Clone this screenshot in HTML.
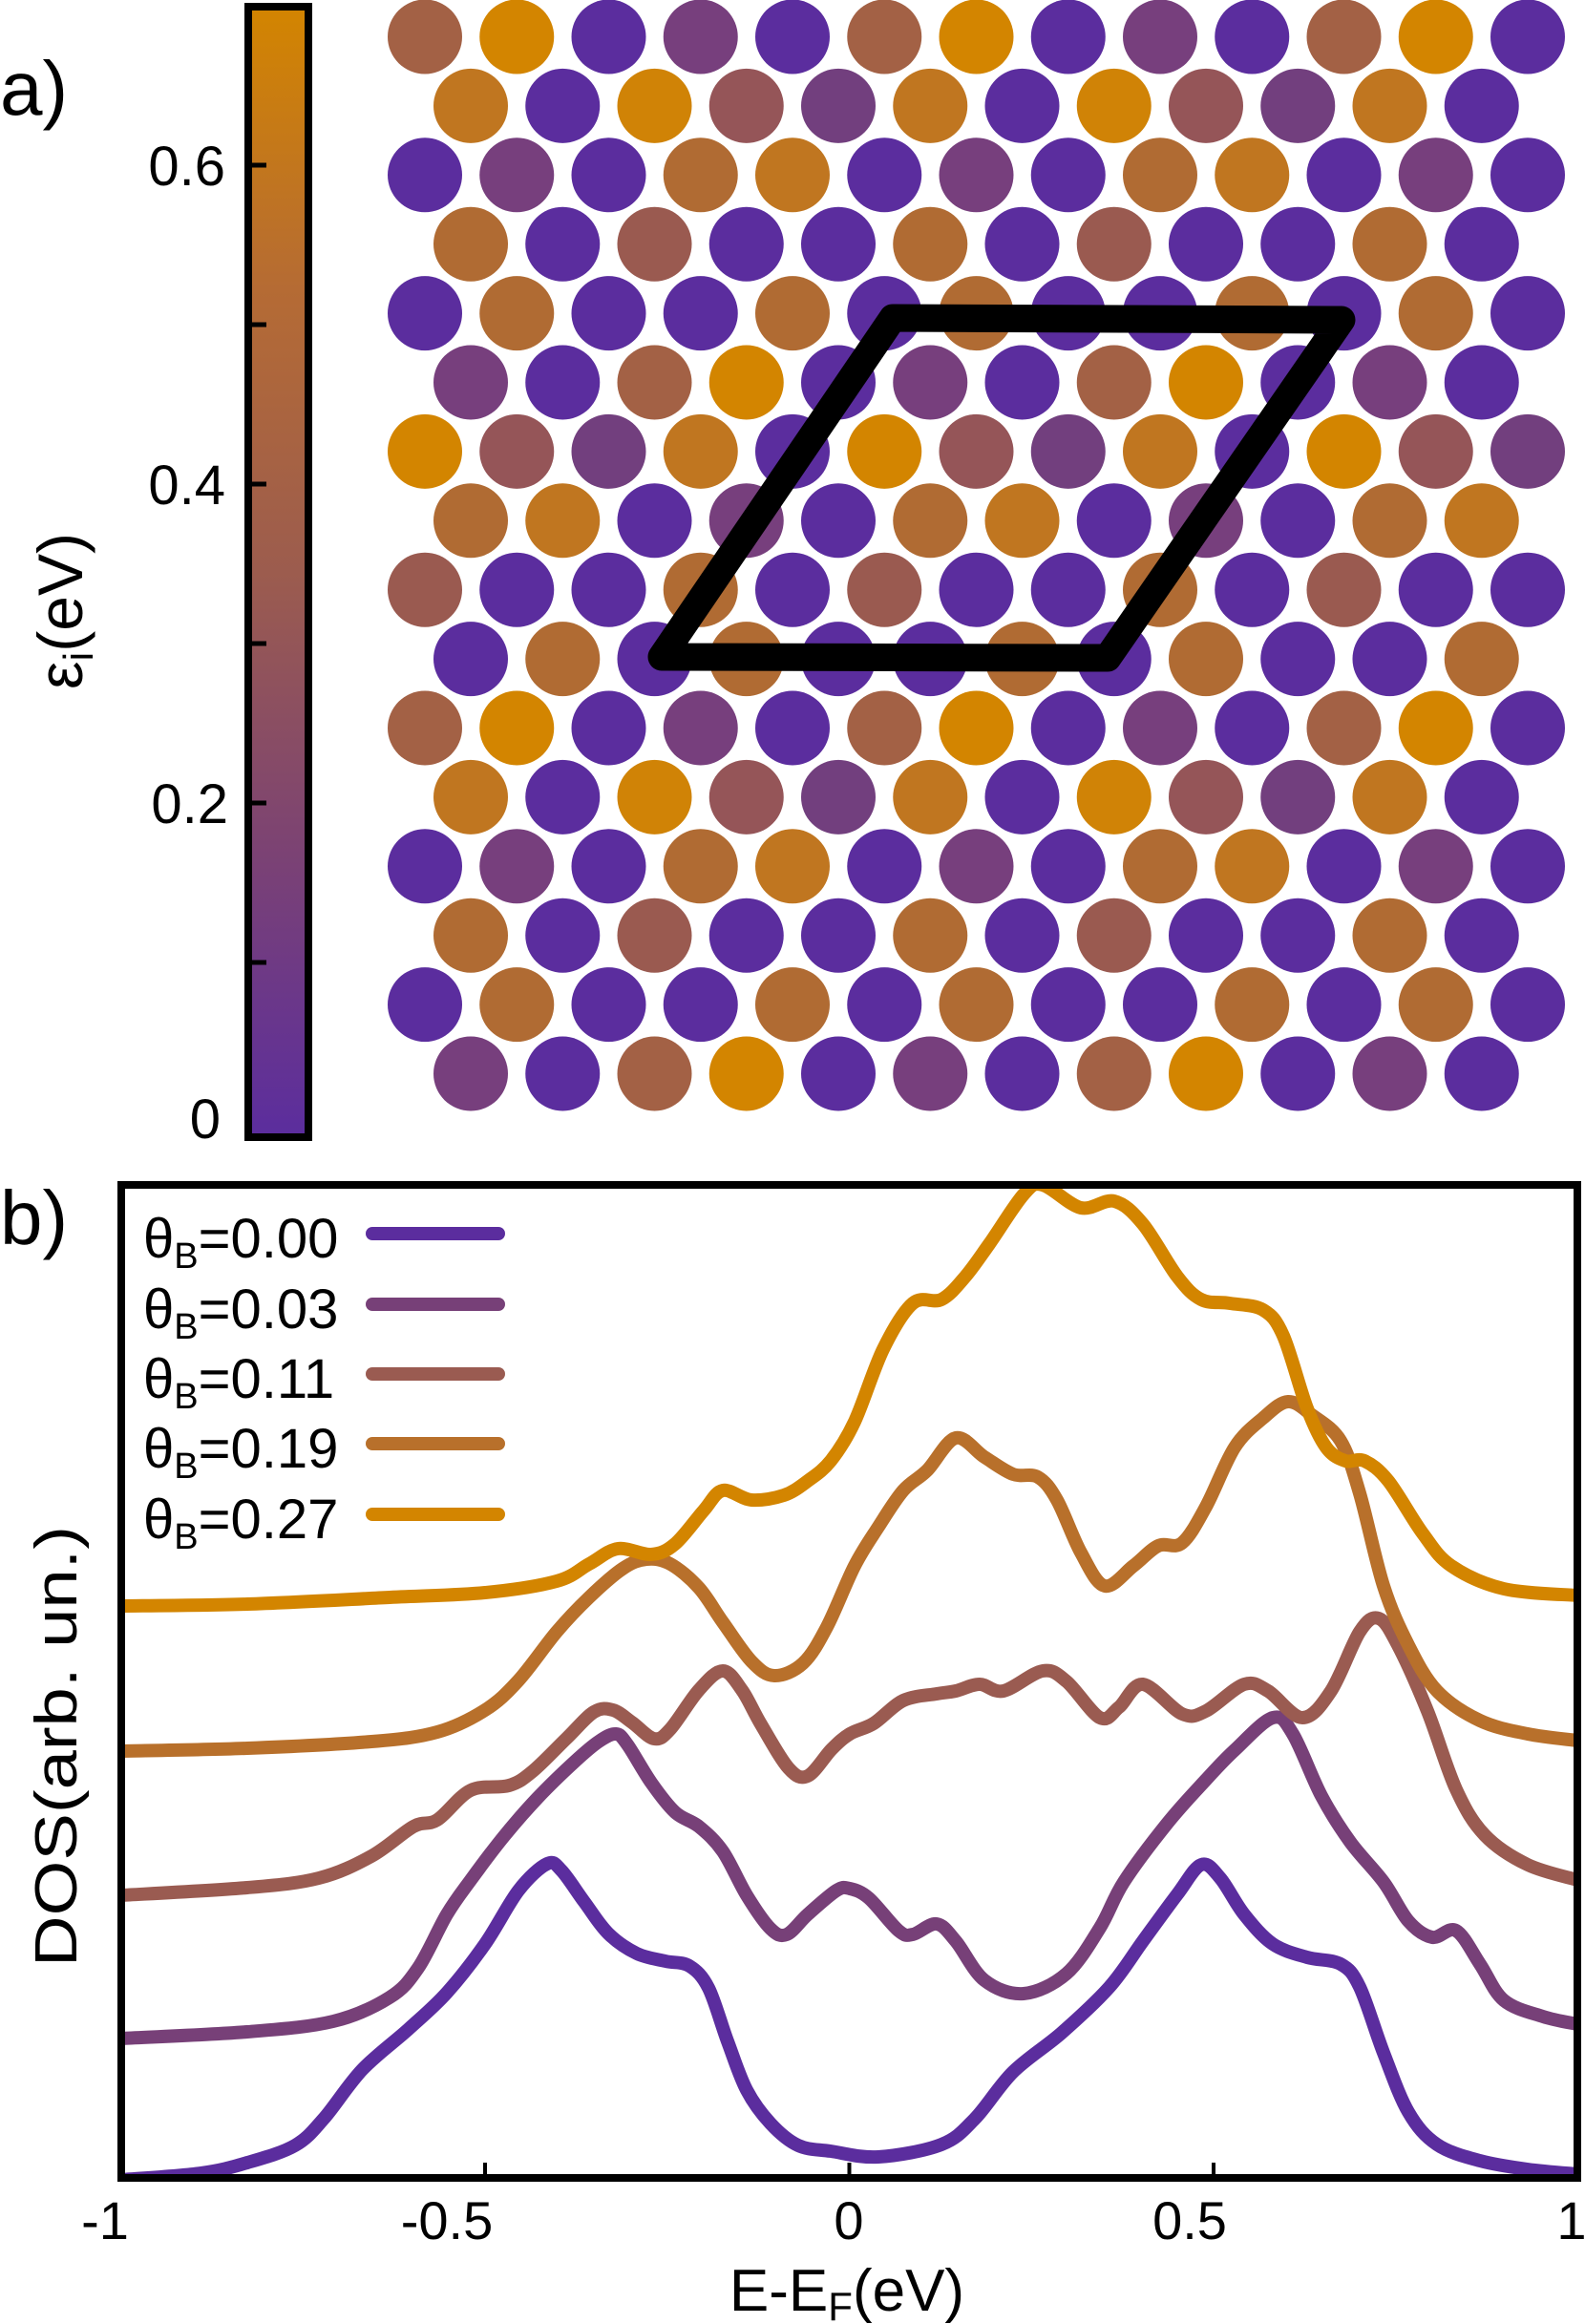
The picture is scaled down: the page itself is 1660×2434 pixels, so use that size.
<!DOCTYPE html>
<html><head><meta charset="utf-8"><style>html,body{margin:0;padding:0;background:#fff}svg{display:block}</style></head>
<body>
<svg id="root" width="1660" height="2434" viewBox="0 0 1660 2434" xmlns="http://www.w3.org/2000/svg" font-family="'Liberation Sans', sans-serif">
<defs>
<linearGradient id="cb" x1="0" y1="1" x2="0" y2="0">
<stop offset="0" stop-color="#5b2d9e"/><stop offset="0.25" stop-color="#7b4274"/><stop offset="0.5" stop-color="#9c5c4e"/><stop offset="0.75" stop-color="#b56b34"/><stop offset="1" stop-color="#d38500"/>
</linearGradient>
<clipPath id="pc"><rect x="127" y="1241" width="1525" height="1040"/></clipPath>
</defs>
<text x="0" y="120" font-size="80">a)</text>
<text x="0" y="1303" font-size="80">b)</text>
<rect x="260" y="7" width="63" height="1184" fill="url(#cb)" stroke="#000" stroke-width="8"/>
<g stroke="#000" stroke-width="5">
<line x1="262" y1="173" x2="279" y2="173"/><line x1="262" y1="340" x2="279" y2="340"/><line x1="262" y1="507" x2="279" y2="507"/><line x1="262" y1="674" x2="279" y2="674"/><line x1="262" y1="841" x2="279" y2="841"/><line x1="262" y1="1008" x2="279" y2="1008"/>
</g>
<g font-size="58" text-anchor="end">
<text x="236" y="194">0.6</text><text x="236" y="528">0.4</text><text x="239" y="862">0.2</text><text x="231" y="1192">0</text>
</g>
<text transform="translate(86,640) rotate(-90)" font-size="66" text-anchor="middle">ε<tspan font-size="44" dy="11">i</tspan><tspan dy="-11">(eV)</tspan></text>
<g>
<circle cx="445" cy="38.5" r="39" fill="#a36145"/><circle cx="541.25" cy="38.5" r="39" fill="#d38500"/><circle cx="637.5" cy="38.5" r="39" fill="#5b2d9e"/><circle cx="733.75" cy="38.5" r="39" fill="#773f7d"/><circle cx="830" cy="38.5" r="39" fill="#5b2d9e"/><circle cx="926.25" cy="38.5" r="39" fill="#a36145"/><circle cx="1022.5" cy="38.5" r="39" fill="#d38500"/><circle cx="1118.75" cy="38.5" r="39" fill="#5b2d9e"/><circle cx="1215" cy="38.5" r="39" fill="#773f7d"/><circle cx="1311.25" cy="38.5" r="39" fill="#5b2d9e"/><circle cx="1407.5" cy="38.5" r="39" fill="#a36145"/><circle cx="1503.75" cy="38.5" r="39" fill="#d38500"/><circle cx="1600" cy="38.5" r="39" fill="#5b2d9e"/>
<circle cx="493" cy="110.9" r="39" fill="#c07620"/><circle cx="589.25" cy="110.9" r="39" fill="#5b2d9e"/><circle cx="685.5" cy="110.9" r="39" fill="#d08306"/><circle cx="781.75" cy="110.9" r="39" fill="#955558"/><circle cx="878" cy="110.9" r="39" fill="#723f7e"/><circle cx="974.25" cy="110.9" r="39" fill="#c07620"/><circle cx="1070.5" cy="110.9" r="39" fill="#5b2d9e"/><circle cx="1166.75" cy="110.9" r="39" fill="#d08306"/><circle cx="1263" cy="110.9" r="39" fill="#955558"/><circle cx="1359.25" cy="110.9" r="39" fill="#723f7e"/><circle cx="1455.5" cy="110.9" r="39" fill="#c07620"/><circle cx="1551.75" cy="110.9" r="39" fill="#5b2d9e"/>
<circle cx="445" cy="183.3" r="39" fill="#5b2d9e"/><circle cx="541.25" cy="183.3" r="39" fill="#773f7d"/><circle cx="637.5" cy="183.3" r="39" fill="#5b2d9e"/><circle cx="733.75" cy="183.3" r="39" fill="#b06b33"/><circle cx="830" cy="183.3" r="39" fill="#c07620"/><circle cx="926.25" cy="183.3" r="39" fill="#5b2d9e"/><circle cx="1022.5" cy="183.3" r="39" fill="#773f7d"/><circle cx="1118.75" cy="183.3" r="39" fill="#5b2d9e"/><circle cx="1215" cy="183.3" r="39" fill="#b06b33"/><circle cx="1311.25" cy="183.3" r="39" fill="#c07620"/><circle cx="1407.5" cy="183.3" r="39" fill="#5b2d9e"/><circle cx="1503.75" cy="183.3" r="39" fill="#773f7d"/><circle cx="1600" cy="183.3" r="39" fill="#5b2d9e"/>
<circle cx="493" cy="255.7" r="39" fill="#b06b33"/><circle cx="589.25" cy="255.7" r="39" fill="#5b2d9e"/><circle cx="685.5" cy="255.7" r="39" fill="#9a5a50"/><circle cx="781.75" cy="255.7" r="39" fill="#5b2d9e"/><circle cx="878" cy="255.7" r="39" fill="#5b2d9e"/><circle cx="974.25" cy="255.7" r="39" fill="#b06b33"/><circle cx="1070.5" cy="255.7" r="39" fill="#5b2d9e"/><circle cx="1166.75" cy="255.7" r="39" fill="#9a5a50"/><circle cx="1263" cy="255.7" r="39" fill="#5b2d9e"/><circle cx="1359.25" cy="255.7" r="39" fill="#5b2d9e"/><circle cx="1455.5" cy="255.7" r="39" fill="#b06b33"/><circle cx="1551.75" cy="255.7" r="39" fill="#5b2d9e"/>
<circle cx="445" cy="328.1" r="39" fill="#5b2d9e"/><circle cx="541.25" cy="328.1" r="39" fill="#b06b33"/><circle cx="637.5" cy="328.1" r="39" fill="#5b2d9e"/><circle cx="733.75" cy="328.1" r="39" fill="#5b2d9e"/><circle cx="830" cy="328.1" r="39" fill="#b06b33"/><circle cx="926.25" cy="328.1" r="39" fill="#5b2d9e"/><circle cx="1022.5" cy="328.1" r="39" fill="#b06b33"/><circle cx="1118.75" cy="328.1" r="39" fill="#5b2d9e"/><circle cx="1215" cy="328.1" r="39" fill="#5b2d9e"/><circle cx="1311.25" cy="328.1" r="39" fill="#b06b33"/><circle cx="1407.5" cy="328.1" r="39" fill="#5b2d9e"/><circle cx="1503.75" cy="328.1" r="39" fill="#b06b33"/><circle cx="1600" cy="328.1" r="39" fill="#5b2d9e"/>
<circle cx="493" cy="400.5" r="39" fill="#773f7d"/><circle cx="589.25" cy="400.5" r="39" fill="#5b2d9e"/><circle cx="685.5" cy="400.5" r="39" fill="#a36145"/><circle cx="781.75" cy="400.5" r="39" fill="#d38500"/><circle cx="878" cy="400.5" r="39" fill="#5b2d9e"/><circle cx="974.25" cy="400.5" r="39" fill="#773f7d"/><circle cx="1070.5" cy="400.5" r="39" fill="#5b2d9e"/><circle cx="1166.75" cy="400.5" r="39" fill="#a36145"/><circle cx="1263" cy="400.5" r="39" fill="#d38500"/><circle cx="1359.25" cy="400.5" r="39" fill="#5b2d9e"/><circle cx="1455.5" cy="400.5" r="39" fill="#773f7d"/><circle cx="1551.75" cy="400.5" r="39" fill="#5b2d9e"/>
<circle cx="445" cy="472.9" r="39" fill="#d38500"/><circle cx="541.25" cy="472.9" r="39" fill="#955558"/><circle cx="637.5" cy="472.9" r="39" fill="#723f7e"/><circle cx="733.75" cy="472.9" r="39" fill="#c07620"/><circle cx="830" cy="472.9" r="39" fill="#5b2d9e"/><circle cx="926.25" cy="472.9" r="39" fill="#d38500"/><circle cx="1022.5" cy="472.9" r="39" fill="#955558"/><circle cx="1118.75" cy="472.9" r="39" fill="#723f7e"/><circle cx="1215" cy="472.9" r="39" fill="#c07620"/><circle cx="1311.25" cy="472.9" r="39" fill="#5b2d9e"/><circle cx="1407.5" cy="472.9" r="39" fill="#d38500"/><circle cx="1503.75" cy="472.9" r="39" fill="#955558"/><circle cx="1600" cy="472.9" r="39" fill="#723f7e"/>
<circle cx="493" cy="545.3" r="39" fill="#b06b33"/><circle cx="589.25" cy="545.3" r="39" fill="#c07620"/><circle cx="685.5" cy="545.3" r="39" fill="#5b2d9e"/><circle cx="781.75" cy="545.3" r="39" fill="#773f7d"/><circle cx="878" cy="545.3" r="39" fill="#5b2d9e"/><circle cx="974.25" cy="545.3" r="39" fill="#b06b33"/><circle cx="1070.5" cy="545.3" r="39" fill="#c07620"/><circle cx="1166.75" cy="545.3" r="39" fill="#5b2d9e"/><circle cx="1263" cy="545.3" r="39" fill="#773f7d"/><circle cx="1359.25" cy="545.3" r="39" fill="#5b2d9e"/><circle cx="1455.5" cy="545.3" r="39" fill="#b06b33"/><circle cx="1551.75" cy="545.3" r="39" fill="#c07620"/>
<circle cx="445" cy="617.7" r="39" fill="#9a5a50"/><circle cx="541.25" cy="617.7" r="39" fill="#5b2d9e"/><circle cx="637.5" cy="617.7" r="39" fill="#5b2d9e"/><circle cx="733.75" cy="617.7" r="39" fill="#b06b33"/><circle cx="830" cy="617.7" r="39" fill="#5b2d9e"/><circle cx="926.25" cy="617.7" r="39" fill="#9a5a50"/><circle cx="1022.5" cy="617.7" r="39" fill="#5b2d9e"/><circle cx="1118.75" cy="617.7" r="39" fill="#5b2d9e"/><circle cx="1215" cy="617.7" r="39" fill="#b06b33"/><circle cx="1311.25" cy="617.7" r="39" fill="#5b2d9e"/><circle cx="1407.5" cy="617.7" r="39" fill="#9a5a50"/><circle cx="1503.75" cy="617.7" r="39" fill="#5b2d9e"/><circle cx="1600" cy="617.7" r="39" fill="#5b2d9e"/>
<circle cx="493" cy="690.1" r="39" fill="#5b2d9e"/><circle cx="589.25" cy="690.1" r="39" fill="#b06b33"/><circle cx="685.5" cy="690.1" r="39" fill="#5b2d9e"/><circle cx="781.75" cy="690.1" r="39" fill="#b06b33"/><circle cx="878" cy="690.1" r="39" fill="#5b2d9e"/><circle cx="974.25" cy="690.1" r="39" fill="#5b2d9e"/><circle cx="1070.5" cy="690.1" r="39" fill="#b06b33"/><circle cx="1166.75" cy="690.1" r="39" fill="#5b2d9e"/><circle cx="1263" cy="690.1" r="39" fill="#b06b33"/><circle cx="1359.25" cy="690.1" r="39" fill="#5b2d9e"/><circle cx="1455.5" cy="690.1" r="39" fill="#5b2d9e"/><circle cx="1551.75" cy="690.1" r="39" fill="#b06b33"/>
<circle cx="445" cy="762.5" r="39" fill="#a36145"/><circle cx="541.25" cy="762.5" r="39" fill="#d38500"/><circle cx="637.5" cy="762.5" r="39" fill="#5b2d9e"/><circle cx="733.75" cy="762.5" r="39" fill="#773f7d"/><circle cx="830" cy="762.5" r="39" fill="#5b2d9e"/><circle cx="926.25" cy="762.5" r="39" fill="#a36145"/><circle cx="1022.5" cy="762.5" r="39" fill="#d38500"/><circle cx="1118.75" cy="762.5" r="39" fill="#5b2d9e"/><circle cx="1215" cy="762.5" r="39" fill="#773f7d"/><circle cx="1311.25" cy="762.5" r="39" fill="#5b2d9e"/><circle cx="1407.5" cy="762.5" r="39" fill="#a36145"/><circle cx="1503.75" cy="762.5" r="39" fill="#d38500"/><circle cx="1600" cy="762.5" r="39" fill="#5b2d9e"/>
<circle cx="493" cy="834.9" r="39" fill="#c07620"/><circle cx="589.25" cy="834.9" r="39" fill="#5b2d9e"/><circle cx="685.5" cy="834.9" r="39" fill="#d08306"/><circle cx="781.75" cy="834.9" r="39" fill="#955558"/><circle cx="878" cy="834.9" r="39" fill="#723f7e"/><circle cx="974.25" cy="834.9" r="39" fill="#c07620"/><circle cx="1070.5" cy="834.9" r="39" fill="#5b2d9e"/><circle cx="1166.75" cy="834.9" r="39" fill="#d08306"/><circle cx="1263" cy="834.9" r="39" fill="#955558"/><circle cx="1359.25" cy="834.9" r="39" fill="#723f7e"/><circle cx="1455.5" cy="834.9" r="39" fill="#c07620"/><circle cx="1551.75" cy="834.9" r="39" fill="#5b2d9e"/>
<circle cx="445" cy="907.3" r="39" fill="#5b2d9e"/><circle cx="541.25" cy="907.3" r="39" fill="#773f7d"/><circle cx="637.5" cy="907.3" r="39" fill="#5b2d9e"/><circle cx="733.75" cy="907.3" r="39" fill="#b06b33"/><circle cx="830" cy="907.3" r="39" fill="#c07620"/><circle cx="926.25" cy="907.3" r="39" fill="#5b2d9e"/><circle cx="1022.5" cy="907.3" r="39" fill="#773f7d"/><circle cx="1118.75" cy="907.3" r="39" fill="#5b2d9e"/><circle cx="1215" cy="907.3" r="39" fill="#b06b33"/><circle cx="1311.25" cy="907.3" r="39" fill="#c07620"/><circle cx="1407.5" cy="907.3" r="39" fill="#5b2d9e"/><circle cx="1503.75" cy="907.3" r="39" fill="#773f7d"/><circle cx="1600" cy="907.3" r="39" fill="#5b2d9e"/>
<circle cx="493" cy="979.7" r="39" fill="#b06b33"/><circle cx="589.25" cy="979.7" r="39" fill="#5b2d9e"/><circle cx="685.5" cy="979.7" r="39" fill="#9a5a50"/><circle cx="781.75" cy="979.7" r="39" fill="#5b2d9e"/><circle cx="878" cy="979.7" r="39" fill="#5b2d9e"/><circle cx="974.25" cy="979.7" r="39" fill="#b06b33"/><circle cx="1070.5" cy="979.7" r="39" fill="#5b2d9e"/><circle cx="1166.75" cy="979.7" r="39" fill="#9a5a50"/><circle cx="1263" cy="979.7" r="39" fill="#5b2d9e"/><circle cx="1359.25" cy="979.7" r="39" fill="#5b2d9e"/><circle cx="1455.5" cy="979.7" r="39" fill="#b06b33"/><circle cx="1551.75" cy="979.7" r="39" fill="#5b2d9e"/>
<circle cx="445" cy="1052.1" r="39" fill="#5b2d9e"/><circle cx="541.25" cy="1052.1" r="39" fill="#b06b33"/><circle cx="637.5" cy="1052.1" r="39" fill="#5b2d9e"/><circle cx="733.75" cy="1052.1" r="39" fill="#5b2d9e"/><circle cx="830" cy="1052.1" r="39" fill="#b06b33"/><circle cx="926.25" cy="1052.1" r="39" fill="#5b2d9e"/><circle cx="1022.5" cy="1052.1" r="39" fill="#b06b33"/><circle cx="1118.75" cy="1052.1" r="39" fill="#5b2d9e"/><circle cx="1215" cy="1052.1" r="39" fill="#5b2d9e"/><circle cx="1311.25" cy="1052.1" r="39" fill="#b06b33"/><circle cx="1407.5" cy="1052.1" r="39" fill="#5b2d9e"/><circle cx="1503.75" cy="1052.1" r="39" fill="#b06b33"/><circle cx="1600" cy="1052.1" r="39" fill="#5b2d9e"/>
<circle cx="493" cy="1124.5" r="39" fill="#773f7d"/><circle cx="589.25" cy="1124.5" r="39" fill="#5b2d9e"/><circle cx="685.5" cy="1124.5" r="39" fill="#a36145"/><circle cx="781.75" cy="1124.5" r="39" fill="#d38500"/><circle cx="878" cy="1124.5" r="39" fill="#5b2d9e"/><circle cx="974.25" cy="1124.5" r="39" fill="#773f7d"/><circle cx="1070.5" cy="1124.5" r="39" fill="#5b2d9e"/><circle cx="1166.75" cy="1124.5" r="39" fill="#a36145"/><circle cx="1263" cy="1124.5" r="39" fill="#d38500"/><circle cx="1359.25" cy="1124.5" r="39" fill="#5b2d9e"/><circle cx="1455.5" cy="1124.5" r="39" fill="#773f7d"/><circle cx="1551.75" cy="1124.5" r="39" fill="#5b2d9e"/>
</g>
<polygon points="935,333 1405,335 1160,689 693,688" fill="none" stroke="#000" stroke-width="29" stroke-linejoin="round"/>
<g id="curves" clip-path="url(#pc)" fill="none" stroke-width="14" stroke-linejoin="round" stroke-linecap="round">
<polyline stroke="#5b2d9e" points="127,2283 210,2276 259,2265 309,2247 339,2219 379,2168 428,2125 468,2087 508,2036 543,1980 573,1952 588,1959 612,1992 637,2025 667,2046 697,2054 722,2059 742,2082 762,2138 782,2189 807,2224 836,2247 870,2253 920,2259 986,2246 1021,2219 1061,2170 1112,2129 1162,2081 1197,2033 1233,1984 1258,1953 1278,1967 1303,2005 1333,2036 1369,2050 1404,2057 1424,2081 1449,2150 1475,2212 1505,2246 1550,2263 1600,2272 1652,2277"/>
<polyline stroke="#774078" points="127,2135 259,2128 349,2117 408,2092 438,2061 468,2005 493,1969 528,1923 563,1883 603,1844 627,1824 645,1816 657,1827 682,1867 707,1898 732,1913 757,1939 782,1985 807,2020 824,2026 846,2005 876,1980 890,1978 910,1988 941,2022 956,2026 981,2015 1001,2033 1031,2074 1072,2088 1117,2067 1152,2019 1177,1971 1223,1909 1263,1864 1293,1833 1333,1799 1354,1816 1384,1881 1414,1929 1449,1971 1475,2012 1500,2029 1525,2022 1550,2057 1575,2095 1616,2112 1652,2120"/>
<polyline stroke="#9a5b51" points="127,1985 259,1977 334,1967 389,1944 433,1913 458,1906 493,1875 533,1870 558,1855 593,1821 622,1793 642,1791 662,1804 685,1821 702,1811 732,1770 757,1750 777,1770 797,1806 826,1852 846,1860 871,1832 890,1816 915,1805 946,1781 981,1774 1001,1771 1026,1764 1051,1771 1092,1750 1117,1761 1152,1799 1172,1788 1197,1764 1238,1795 1263,1792 1303,1764 1328,1771 1364,1799 1394,1771 1424,1709 1444,1695 1464,1723 1495,1792 1525,1874 1555,1922 1600,1953 1652,1969"/>
<polyline stroke="#b8702b" points="127,1834 259,1831 389,1824 458,1814 508,1791 543,1760 583,1709 617,1673 652,1643 677,1633 702,1638 732,1663 757,1699 787,1740 811,1755 841,1742 866,1704 895,1640 920,1599 946,1561 971,1540 1001,1506 1031,1526 1061,1544 1087,1547 1107,1571 1132,1626 1157,1661 1187,1640 1213,1619 1238,1616 1263,1578 1293,1516 1323,1485 1349,1468 1374,1482 1404,1509 1424,1564 1449,1661 1475,1723 1505,1771 1550,1802 1600,1816 1652,1823"/>
<polyline stroke="#d38500" points="127,1682 259,1680 408,1673 508,1668 583,1656 617,1638 647,1622 682,1628 707,1617 737,1582 757,1561 787,1571 821,1566 846,1551 870,1530 895,1489 925,1413 956,1365 986,1361 1011,1337 1036,1303 1072,1251 1092,1241 1132,1265 1167,1258 1197,1282 1233,1337 1258,1361 1288,1365 1323,1372 1344,1399 1369,1475 1389,1516 1409,1530 1429,1530 1454,1551 1490,1606 1520,1640 1575,1664 1652,1671"/>
</g>
<rect x="127" y="1241" width="1525" height="1040" fill="none" stroke="#000" stroke-width="8"/>
<g stroke="#000" stroke-width="4">
<line x1="508" y1="2281" x2="508" y2="2265"/><line x1="889.5" y1="2281" x2="889.5" y2="2265"/><line x1="1271" y1="2281" x2="1271" y2="2265"/>
</g>
<g font-size="58">
<text x="150" y="1317">θ<tspan font-size="38" dy="11">B</tspan><tspan dy="-11">=0.00</tspan></text>
<text x="150" y="1391">θ<tspan font-size="38" dy="11">B</tspan><tspan dy="-11">=0.03</tspan></text>
<text x="150" y="1464">θ<tspan font-size="38" dy="11">B</tspan><tspan dy="-11">=0.11</tspan></text>
<text x="150" y="1537">θ<tspan font-size="38" dy="11">B</tspan><tspan dy="-11">=0.19</tspan></text>
<text x="150" y="1611">θ<tspan font-size="38" dy="11">B</tspan><tspan dy="-11">=0.27</tspan></text>
</g>
<g stroke-width="14" stroke-linecap="round">
<line x1="390" y1="1292" x2="522" y2="1292" stroke="#5b2d9e"/>
<line x1="390" y1="1366" x2="522" y2="1366" stroke="#774078"/>
<line x1="390" y1="1439" x2="522" y2="1439" stroke="#9a5b51"/>
<line x1="390" y1="1512" x2="522" y2="1512" stroke="#b8702b"/>
<line x1="390" y1="1586" x2="522" y2="1586" stroke="#d38500"/>
</g>
<g font-size="56" text-anchor="middle">
<text x="110" y="2345">-1</text><text x="468" y="2345">-0.5</text><text x="889" y="2345">0</text><text x="1246" y="2345">0.5</text><text x="1646" y="2345">1</text>
</g>
<text x="887" y="2420" font-size="62" text-anchor="middle">E-E<tspan font-size="42" dy="10">F</tspan><tspan dy="-10">(eV)</tspan></text>
<text transform="translate(80,1829) rotate(-90)" font-size="62" text-anchor="middle" textLength="462" lengthAdjust="spacingAndGlyphs">DOS(arb. un.)</text>
</svg>
<script>
(function(){
var ns="http://www.w3.org/2000/svg";
var pls=document.querySelectorAll('#curves polyline');
for(var k=0;k<pls.length;k++){
var pl=pls[k];
var p=pl.getAttribute('points').trim().split(/\s+/).map(function(s){var a=s.split(',');return [parseFloat(a[0]),parseFloat(a[1])];});
var d='M'+p[0][0]+','+p[0][1];
for(var i=0;i<p.length-1;i++){
var p0=p[i>0?i-1:0],p1=p[i],p2=p[i+1],p3=p[i+2<p.length?i+2:p.length-1];
var c1x=p1[0]+(p2[0]-p0[0])/6,c1y=p1[1]+(p2[1]-p0[1])/6;
var c2x=p2[0]-(p3[0]-p1[0])/6,c2y=p2[1]-(p3[1]-p1[1])/6;
d+=' C'+c1x.toFixed(1)+','+c1y.toFixed(1)+' '+c2x.toFixed(1)+','+c2y.toFixed(1)+' '+p2[0]+','+p2[1];
}
var path=document.createElementNS(ns,'path');
path.setAttribute('d',d);
path.setAttribute('stroke',pl.getAttribute('stroke'));
pl.parentNode.replaceChild(path,pl);
}
})();
</script>
</body></html>
